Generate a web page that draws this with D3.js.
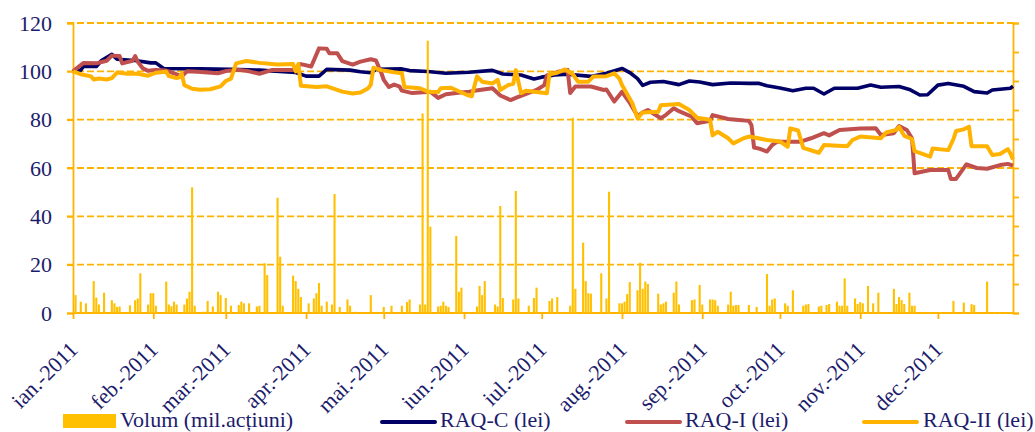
<!DOCTYPE html>
<meta charset="utf-8">
<script src="https://d3js.org/d3.v7.min.js"></script>
<style>
  body { margin: 0; background: #fff; }
  text { font-family: "Liberation Serif", "DejaVu Serif", serif; fill: #1c1c6b; }
</style>
<div id="my_dataviz"></div>
<script>

// day number in 2011 (0 = 1 ian.) and value
var raqC = [[0,100],[3,100.5],[4,102],[9,102],[11,104.5],[15,107],[17,105],[24,104.5],[30,103.5],[32,103.5],[35,101.2],[49,101],[61,100.8],[72,100.5],[86,99.5],[90,98],[95,98],[98,100.8],[107,100.5],[111,99.8],[115,99.4],[117,100.8],[127,101],[130,100.3],[137,99.9],[144,99.2],[153,99.6],[162,100.4],[166,98.9],[173,98.5],[178,96.8],[181,97.6],[186,98.5],[191,98.8],[200,97.9],[206,99.2],[212,101.2],[215,99.5],[218,97],[220,94.2],[223,95.5],[228,95.8],[234,94.5],[238,96],[242,95.6],[247,94.5],[254,95.2],[261,95],[265,95],[268,94],[273,93.1],[278,92],[283,93],[286,93],[290,90.6],[294,93],[303,93],[308,94.3],[312,93.4],[319,93.7],[323,92.5],[327,90.2],[330,90.3],[334,94.3],[338,95],[344,93.8],[348,91.6],[353,91],[355,92.3],[362,93],[363,93.8]];

var raqI = [[0,100],[3,102.6],[4,103.4],[9,103.3],[13,104.4],[15,106.5],[18,106.3],[19,103.3],[23,104.4],[24,106.3],[25,104],[27,101.2],[29,100.2],[32,100.6],[36,100.3],[39,99.2],[42,97.9],[44,100],[48,99.8],[56,99.2],[59,100.1],[64,100.6],[68,100],[72,99],[77,100.6],[85,100.6],[88,103],[92,102],[95,109.5],[98,109.3],[99,107.5],[102,107.5],[104,104.2],[108,102.8],[111,104],[115,105],[117,104.5],[119,99.5],[120,96.5],[122,93.5],[124,94.5],[126,93.8],[127,92],[131,91],[138,91.6],[141,89],[144,90.5],[148,91],[153,91.6],[157,92.3],[162,93],[165,90],[169,88.1],[171,89],[175,90.7],[179,92.3],[182,94.3],[183,98.3],[187,99.7],[191,100.6],[192,91],[194,93.7],[200,93.7],[205,92.3],[206,92.5],[209,87.5],[212,91.5],[215,87],[218,81.5],[220,83],[222,84],[227,80.6],[229,82],[232,84.7],[234,83.5],[239,81.2],[241,78.5],[246,79.5],[247,81.9],[253,80.3],[256,80],[261,79.5],[262,77.8],[263,68.5],[265,68],[268,66.8],[270,69.5],[272,70.9],[281,70.9],[285,72.3],[290,74.4],[292,73.5],[296,75.7],[304,76.3],[310,76.4],[312,73.7],[317,74.4],[319,77.4],[322,75.7],[324,72.3],[325,57.8],[331,59.2],[338,59.2],[339,55.5],[341,55.5],[345,61.5],[349,60],[353,59.7],[358,61.2],[361,61.7],[363,61]];

var raqII = [[0,100],[3,98.8],[7,97.9],[8,96.6],[10,97],[13,96.6],[15,97.2],[17,99.5],[21,99],[25,99],[27,98.6],[29,98.2],[31,99],[32,99.4],[36,99.8],[37,98],[40,97.2],[41,97.5],[42,99],[43,94.3],[46,92.8],[49,92.4],[53,92.6],[57,93.8],[59,96],[61,97],[63,103.3],[67,104.3],[72,103.5],[79,102.8],[85,103],[86,100],[87,103],[88,94],[94,93.5],[98,93.8],[102,92.3],[104,91.6],[108,90.8],[111,91.2],[114,93],[115,94.5],[116,101.5],[119,100.5],[124,99.6],[127,99.2],[128,93.5],[134,93],[137,91.6],[141,91.4],[142,93],[146,93.2],[152,90.3],[154,89.7],[156,97.9],[158,95.7],[162,95],[164,96.5],[165,92.3],[168,94.3],[170,94.8],[171,100.5],[173,91],[175,92],[183,90.9],[184,98.8],[187,99.4],[190,100.8],[193,98.8],[195,95.7],[199,95.7],[201,97.9],[206,98],[209,99.2],[211,97],[212,94.3],[216,86.8],[218,80.5],[220,83],[226,83.3],[227,86],[234,86.5],[238,84],[241,80.8],[246,80],[247,73.5],[249,75],[253,72.3],[255,70.2],[259,72.3],[261,73],[268,71.6],[273,71],[276,68.8],[277,76.4],[280,75.5],[282,68.3],[288,66.3],[290,69.5],[299,69],[301,71.6],[304,73],[312,72.3],[314,74.7],[318,75.8],[319,77],[321,73.3],[324,72],[325,67],[331,64.7],[332,68.1],[338,67.4],[340,72],[341,75.3],[344,76],[346,77.1],[347,69],[353,69],[355,65.4],[358,65.8],[361,67.8],[362,66],[363,63.5]];

// volume, mil. actiuni (day number, value)
var volum = [[1,7.4],[3,4.7],[5,4],[8,13.2],[9,6.4],[10,3.5],[12,8.4],[15,5.3],[16,4],[17,2.5],[18,2.7],[22,3.2],[24,5.3],[25,6],[26,16.4],[29,3.5],[30,8.2],[31,8.2],[32,3],[36,13],[37,3.5],[38,2.8],[39,4.7],[40,3.5],[43,3.5],[44,6],[45,8.8],[46,52],[47,3],[50,0.5],[51,0.5],[52,5],[54,2.7],[56,8.8],[57,7.4],[59,6.2],[61,3],[64,3.3],[65,4.7],[66,4],[68,4],[71,2.7],[72,3],[74,20.6],[75,15.7],[79,47.7],[80,23.3],[81,3],[85,15.5],[86,13.2],[87,10],[88,6.6],[91,4],[93,6],[94,8.2],[95,12.4],[96,3],[98,4.7],[100,3.5],[101,49.2],[103,2.5],[106,5.6],[107,3],[109,0.5],[115,7.4],[120,2.5],[123,3],[127,3],[129,4.5],[130,5.6],[134,3.5],[135,82.6],[136,3.5],[137,112.7],[138,35.7],[141,2.7],[142,3],[143,4.7],[144,3],[145,2.5],[148,31.9],[149,8.8],[150,10.5],[156,2.7],[157,11.2],[158,7.4],[159,13.2],[163,3.5],[164,2.7],[165,44.3],[166,6.2],[170,5.6],[171,50.5],[172,6],[176,3],[178,6.2],[179,10.5],[184,5],[185,6],[187,6.6],[192,3],[193,80.8],[194,10],[197,29.1],[198,13.2],[199,8.2],[200,8],[204,16.4],[206,6],[207,50.2],[211,4],[212,4],[213,4.7],[214,7.8],[215,12.8],[218,9.4],[219,20.8],[220,10],[221,13],[222,12],[226,8],[227,3.5],[228,4],[229,4.7],[232,8.4],[233,13],[234,3.5],[239,5.3],[240,5.6],[242,11.6],[243,3.5],[246,5.6],[247,5.6],[248,5.3],[249,3],[253,3.5],[254,8.8],[255,3],[256,3.3],[257,3.3],[261,3.3],[264,2.5],[268,16.1],[269,3],[270,5.6],[271,6],[275,4],[276,3],[278,9.4],[282,3],[283,3.5],[284,3.7],[288,2.7],[289,3],[291,3.3],[292,3.7],[295,4.7],[296,3],[297,3],[298,14.3],[299,3],[302,6],[303,3.7],[304,4.5],[305,4],[307,11.2],[309,4],[311,8.4],[317,10],[318,3.7],[319,6.6],[320,5.3],[321,3.7],[323,8.4],[324,3],[325,3],[331,0.4],[333,0.4],[335,0.4],[340,5],[344,4.3],[347,3.7],[348,3.3],[353,13],[356,0.4],[358,0.4],[360,0.4],[362,0.4]];

var lunaLabels = ["ian.-2011","feb.-2011","mar.-2011","apr.-2011","mai.-2011","iun.-2011","iul.-2011","aug.-2011","sep.-2011","oct.-2011","nov.-2011","dec.-2011"];
var yTicks = [0, 20, 40, 60, 80, 100, 120];
var legendNames = ["Volum (mil.acțiuni)", "RAQ-C (lei)", "RAQ-I (lei)", "RAQ-II (lei)"];

var gold = "#ffb300", barGold = "#ffc000", navy = "#000066", red = "#c0504d";

var W = 1035, H = 432,
    mLeft = 73, mRight = 1013, mTop = 23, mBottom = 313;

var svg = d3.select("#my_dataviz")
  .append("svg")
    .attr("width", W)
    .attr("height", H);

var start = new Date(2011, 0, 1);
function zi(n) { return d3.timeDay.offset(start, n); }

var x = d3.scaleTime()
  .domain([start, new Date(2011, 11, 30)])
  .range([mLeft, mRight]);

var y = d3.scaleLinear()
  .domain([0, 120])
  .range([mBottom, mTop]);

// right axis, no labels
var y2 = d3.scaleLinear()
  .domain([0, 10])
  .range([mBottom, mTop]);

// dashed grid
svg.append("g")
  .selectAll("line")
  .data(yTicks.filter(function(d){ return d > 0 }))
  .enter().append("line")
    .attr("x1", mLeft - 6).attr("x2", mRight)
    .attr("y1", function(d){ return y(d) }).attr("y2", function(d){ return y(d) })
    .attr("stroke", gold)
    .attr("stroke-width", 1.8)
    .attr("stroke-dasharray", "7,3");

// left axis
var yAxis = svg.append("g")
  .attr("transform", "translate(" + mLeft + ",0)")
  .call(d3.axisLeft(y).tickValues(yTicks).tickSize(6).tickPadding(15));
yAxis.selectAll("path, line").attr("stroke", gold).attr("stroke-width", 1.8);
yAxis.selectAll("text").style("font-size", "22px").attr("fill", "#1c1c6b")
  .attr("font-family", "Liberation Serif");

// right axis
var y2Axis = svg.append("g")
  .attr("transform", "translate(" + mRight + ",0)")
  .call(d3.axisRight(y2).ticks(10).tickSize(6).tickFormat(""));
y2Axis.selectAll("path, line").attr("stroke", gold).attr("stroke-width", 1.8);

// bottom axis
var months = d3.timeMonth.range(start, new Date(2011, 11, 2));
var xAxis = svg.append("g")
  .attr("transform", "translate(0," + mBottom + ")")
  .call(d3.axisBottom(x).tickValues(months).tickSize(6).tickFormat(""));
xAxis.selectAll("path, line").attr("stroke", gold).attr("stroke-width", 1.8);
xAxis.select(".domain").attr("d", "M" + mLeft + ",0H" + mRight);

svg.append("g")
  .selectAll("text")
  .data(months)
  .enter().append("text")
    .attr("transform", function(d){ return "translate(" + (x(d) + 6) + ",351) rotate(-45)" })
    .attr("text-anchor", "end")
    .style("font-size", "22px")
    .text(function(d, i){ return lunaLabels[i] });

// lines
var line = d3.line()
  .x(function(d){ return x(zi(d[0])) })
  .y(function(d){ return y(d[1]) });

var series = [
  {name: "raqC", values: raqC, color: navy, w: 3.6},
  {name: "raqI", values: raqI, color: red, w: 4},
  {name: "raqII", values: raqII, color: gold, w: 4}
];

svg.selectAll("myLines")
  .data(series)
  .enter().append("path")
    .attr("d", function(d){ return line(d.values) })
    .attr("stroke", function(d){ return d.color })
    .attr("stroke-width", function(d){ return d.w })
    .attr("stroke-linejoin", "round")
    .attr("fill", "none");

// volume bars
var bw = x(zi(1)) - x(zi(0)) - 0.5;
svg.append("g")
  .selectAll("rect")
  .data(volum)
  .enter().append("rect")
    .attr("x", function(d){ return x(zi(d[0])) - bw / 2 })
    .attr("width", bw)
    .attr("y", function(d){ return y(d[1]) })
    .attr("height", function(d){ return mBottom - y(d[1]) })
    .attr("fill", barGold);

// legend
var leg = svg.append("g");
leg.append("rect").attr("x", 63).attr("y", 414).attr("width", 53).attr("height", 14).attr("fill", barGold);
var legLines = [{x: 382, c: navy}, {x: 627, c: red}, {x: 864, c: gold}];
leg.selectAll("line")
  .data(legLines)
  .enter().append("line")
    .attr("x1", function(d){ return d.x }).attr("x2", function(d){ return d.x + 53 })
    .attr("y1", 422).attr("y2", 422)
    .attr("stroke", function(d){ return d.c })
    .attr("stroke-width", 4)
    .attr("stroke-linecap", "round");
var legX = [120, 440, 685, 923];
leg.selectAll("text")
  .data(legendNames)
  .enter().append("text")
    .attr("x", function(d, i){ return legX[i] })
    .attr("y", 427)
    .style("font-size", "22px")
    .text(function(d){ return d });

</script>
